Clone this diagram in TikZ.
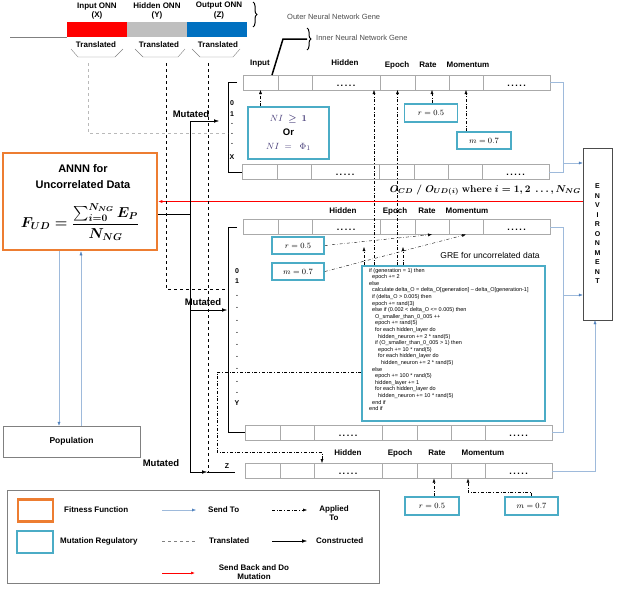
\documentclass[tikz,border=0pt]{standalone}
\usepackage[no-math]{fontspec}
\setmainfont{Liberation Sans}
\usepackage{amsmath,amssymb}
\usetikzlibrary{arrows.meta,decorations.pathreplacing}

\definecolor{fitorange}{RGB}{237,125,49}
\definecolor{mutcyan}{RGB}{75,172,198}
\definecolor{sendblue}{RGB}{79,129,189}
\definecolor{cellgray}{RGB}{170,170,170}
\definecolor{onnblue}{RGB}{0,112,192}
\definecolor{mathnavy}{RGB}{70,60,120}

\tikzset{
  lbl/.style={font=\bfseries\fontsize{8}{9.5}\selectfont, inner sep=0pt},
  genetxt/.style={font=\fontsize{7.5}{8}\selectfont, text=black!70, inner sep=0pt, anchor=west},
  cell/.style={draw=cellgray, fill=white, minimum height=15pt, inner sep=0pt, outer sep=0pt},
  regbox/.style={draw=mutcyan, line width=1.6pt, inner sep=0pt, font=\fontsize{8.5}{9}\selectfont},
  fitbox/.style={draw=fitorange, line width=2.5pt, inner sep=0pt},
  sendto/.style={draw=sendblue!55, -{Latex[length=4pt,width=3pt,color=sendblue]}},
  sendback/.style={draw=red, line width=0.6pt, -{Latex[length=4pt,width=3pt]}},
  applied/.style={dash dot, -{Latex[length=4pt,width=3pt]}},
  build/.style={-{Latex[length=5pt,width=3.5pt]}},
  mutlbl/.style={font=\bfseries\fontsize{9.5}{10}\selectfont, inner sep=0pt},
  idx/.style={font=\bfseries\fontsize{7}{7}\selectfont, inner sep=0pt},
}

% one gene row: name, left x, centre y
\newcommand{\generow}[3]{%
  \foreach \s/\w [count=\i] in {0/35,35/34,69/68,137/35,172/34,206/34,240/67}
    \node [cell, minimum width=\w pt, anchor=west] (#1-\i) at (#2+\s, #3) {};
  \foreach \i in {3,7}
    \node [font=\bfseries\fontsize{9}{9}\selectfont, inner sep=0pt, yshift=-3pt] (#1-d\i) at (#1-\i) {.\,.\,.\,.\,.};
}
\newcommand{\ocdtext}{{\boldmath$O_{CD}\;/\;O_{UD(i)}\ \mathbf{where}\ i = 1,2\ \ldots, N_{NG}$}}
\newcommand{\fudtext}{{\boldmath$\displaystyle F_{UD} = \frac{\sum_{i=0}^{N_{NG}} E_P}{N_{NG}}$}}

\begin{document}
\begin{tikzpicture}[x=1pt, y=-1pt]
\useasboundingbox (0,0) rectangle (618,592);

% outer chromosome
\coordinate (baseL) at (10,37);
\node [fill=red, minimum width=60pt, minimum height=15pt, inner sep=0pt, anchor=south west] (onnX) at (67,37) {};
\node [fill=gray!50, minimum width=60pt, minimum height=15pt, inner sep=0pt, anchor=south west] (onnY) at (127,37) {};
\node [fill=onnblue, minimum width=60pt, minimum height=15pt, inner sep=0pt, anchor=south west] (onnZ) at (187,37) {};
\draw [gray] (baseL) -- (onnX.south west);
\node [lbl, align=center] (lblX) at (97,11) {Input ONN\\(X)};
\node [lbl, align=center] (lblY) at (157,11) {Hidden ONN\\(Y)};
\node [lbl, align=center] (lblZ) at (219,10.5) {Output ONN\\(Z)};
\draw [decorate, decoration={brace, amplitude=4pt}, line width=1pt] (253,2) -- (253,27);
\node [genetxt] (outerG) at (287,17) {Outer Neural Network Gene};

% translated
\node [lbl] (trX) at (96,45) {Translated};
\node [lbl] (trY) at (159,45) {Translated};
\node [lbl] (trZ) at (218,45) {Translated};
\draw [gray] (71,49) -- (78,57) -- (115,57) -- (123,49);
\draw [gray] (135,49) -- (143,57) -- (178,57) -- (185,49);
\draw [gray] (192,49) -- (200,57) -- (233,57) -- (240,49);
\coordinate (tX) at (88,63);
\coordinate (tY) at (166,63);
\coordinate (tZ) at (208,63);

% X block
\generow{xa}{243}{82.5}
\generow{xb}{242}{172}
\draw (237,82.5) -- (228,82.5) -- (228,172) -- (xb-1.west);
\node [lbl] (inL) at (260,64) {Input};
\node [lbl] (hidL) at (345,63) {Hidden};
\node [lbl] (epL) at (397,65) {Epoch};
\node [lbl] (raL) at (428,65) {Rate};
\node [lbl] (moL) at (468,65) {Momentum};
\draw [line width=1.5pt] ([xshift=11.5pt]xa-1.north) -- (283,39) -- (307,39);
\draw [decorate, decoration={brace, amplitude=4pt}, line width=1pt] (307,28) -- (307,50);
\node [genetxt] (innerG) at (316,38) {Inner Neural Network Gene};
\foreach \lab/\yy [count=\i] in {0/103,1/114,./124,./134,./144,X/157}
  \node [idx] (xlab\i) at (232,\yy) {\lab};
\node [regbox, minimum width=81pt, minimum height=52pt, align=center, font=\fontsize{9.5}{14}\selectfont] (niBox) at (288.5,133) {\color{mathnavy}$NI\ \boldsymbol{\geq}\ \mathbf{1}$\\\textbf{Or}\\\color{mathnavy}$NI\ =\ \ \Phi_1$};
\node [regbox, minimum width=53pt, minimum height=18pt] (rX) at (431,113) {$r = 0.5$};
\node [regbox, minimum width=54pt, minimum height=17pt] (mX) at (484,140.5) {$m = 0.7$};
\draw [applied] (niBox.north -| xa-1.south) -- (xa-1.south);
\draw [applied] (rX.north -| xa-5.south) -- (xa-5.south);
\draw [applied] (mX.north -| xa-6.south) -- (xa-6.south);

% environment
\node [draw=black!70, minimum width=29pt, minimum height=172pt, inner sep=0pt, align=center, font=\bfseries\fontsize{7}{9.5}\selectfont] (env) at (597.5,234) {E\\N\\V\\I\\R\\O\\N\\M\\E\\N\\T};
\coordinate (xbr) at (563,163);
\draw [draw=sendblue!55] (xa-7.east) -- ++(13,0) |- (xb-7.east);
\draw [sendto] (xbr) -- (xbr -| env.west);
\node [anchor=east, font=\fontsize{10}{10}\selectfont, inner sep=0pt] (ocd) at (581,190) {\ocdtext};

% fitness function
\node [fitbox, minimum width=154pt, minimum height=97pt] (fud) at (80,201.5) {};
\node [align=center, font=\bfseries\fontsize{11}{16}\selectfont, inner sep=0pt] (fudT) at (83,177) {ANNN for\\Uncorrelated Data};
\node [font=\fontsize{14.5}{16}\selectfont, inner sep=0pt] (fudF) at (80,222) {\fudtext};
\draw [sendback] (env.west |- fud.east) -- (fud.east);

% population
\node [draw=gray, minimum width=137pt, minimum height=31pt, font=\bfseries\fontsize{8.5}{9}\selectfont] (pop) at (71.5,441.5) {Population};
\coordinate (downX) at (59,0);
\coordinate (upX) at (81,0);
\draw [sendto] (fud.south -| downX) -- (pop.north -| downX);
\draw [sendto] (pop.north -| upX) -- (fud.south -| upX);

% Y block
\generow{ya}{243}{227}
\generow{yb}{245}{432.5}
\draw (237,227) -- (228,227) -- (228,432.5) -- (yb-1.west);
\node [lbl] (hidL2) at (343,211) {Hidden};
\node [lbl] (epL2) at (395,211) {Epoch};
\node [lbl] (raL2) at (427,211) {Rate};
\node [lbl] (moL2) at (467,211) {Momentum};
\node [idx] (ylab0) at (237,271) {0};
\node [idx] (ylab1) at (237,281) {1};
\foreach \yy [count=\i] in {296,308,321,333,345,357,369,382,393}
  \node [idx] (ydot\i) at (237,\yy) {.};
\node [idx] (ylabY) at (237,403) {Y};
\node [regbox, minimum width=52pt, minimum height=17pt] (rY) at (298,245.5) {$r = 0.5$};
\node [regbox, minimum width=52pt, minimum height=17pt] (mY) at (298,271.5) {$m = 0.7$};
\draw [applied] (rY.east) -- (ya-5.south);
\draw [applied] (mY.east) -- (ya-6.south);
\coordinate (ybr) at (563,295);
\draw [draw=sendblue!55] (ya-7.east) -- ++(13,0) |- (yb-7.east);
\draw [sendto] (ybr) -- (ybr -| env.west);

% GRE
\node [font=\fontsize{8.5}{9}\selectfont, inner sep=0pt] (greT) at (490,255) {GRE for uncorrelated data};
\node [regbox, minimum width=183pt, minimum height=155pt, anchor=north west] (gre) at (361,265) {};
\node [anchor=north west, align=left, inner sep=0pt, font=\fontsize{5.5}{6.6}\selectfont] (grecode) at (369,268) {%
if (generation = 1) then\\
\hspace*{3pt}epoch += 2\\
else\\
\hspace*{3pt}calculate delta\_O = delta\_O[generation] -- delta\_O[generation-1]\\
\hspace*{3pt}if (delta\_O > 0.005) then\\
\hspace*{3pt}epoch += rand(3)\\
\hspace*{3pt}else if (0.002 < delta\_O <= 0.005) then\\
\hspace*{6pt}O\_smaller\_than\_0\_005 ++\\
\hspace*{6pt}epoch += rand(5)\\
\hspace*{6pt}for each hidden\_layer do\\
\hspace*{9pt}hidden\_neuron += 2 * rand(5)\\
\hspace*{6pt}if (O\_smaller\_than\_0\_005 > 1) then\\
\hspace*{9pt}epoch += 10 * rand(5)\\
\hspace*{9pt}for each hidden\_layer do\\
\hspace*{12pt}hidden\_neuron += 2 * rand(5)\\
\hspace*{3pt}else\\
\hspace*{6pt}epoch += 100 * rand(5)\\
\hspace*{6pt}hidden\_layer += 1\\
\hspace*{6pt}for each hidden\_layer do\\
\hspace*{9pt}hidden\_neuron += 10 * rand(5)\\
\hspace*{3pt}end if\\
end if};
\coordinate (hidEnd) at (374,0);
\coordinate (hidY) at (364,0);
\coordinate (epY) at (403,0);
\draw [applied] (gre.north -| hidEnd) -- (xa-3.south -| hidEnd);
\draw [applied] (gre.north -| xa-4.south) -- (xa-4.south);
\draw [applied] (gre.north -| hidY) -- ++(0,-18);
\draw [applied] (gre.north -| epY) -- ++(0,-18);

% Z block
\generow{z}{245}{471}
\node [lbl] (hidL3) at (348,453) {Hidden};
\node [lbl] (epL3) at (400,453) {Epoch};
\node [lbl] (raL3) at (437,453) {Rate};
\node [lbl] (moL3) at (483,453) {Momentum};
\node [idx] (zlab) at (227,466) {Z};
\node [regbox, minimum width=54pt, minimum height=18pt] (rZ) at (432,506) {$r = 0.5$};
\node [regbox, minimum width=53pt, minimum height=18pt] (mZ) at (531.5,506) {$m = 0.7$};
\draw [applied] (rZ.north -| z-5.south) -- (z-5.south);
\draw [applied] (mZ.north) -- ++(0,-4) -| (z-6.south);
\coordinate (zup) at (595,0);
\draw [sendto] (z-7.east) -| (env.south -| zup);
\coordinate (aplL) at (217,372);
\coordinate (aplB) at (217,452);
\coordinate (zHid) at (322,463);
\draw [applied] (gre.west |- aplL) -- (aplL) -- (aplB) -| (zHid);

% translated and mutated links
\coordinate (xIn) at (219,121);
\coordinate (yIn) at (227,310);
\coordinate (zIn) at (207,472);
\draw [gray!55, dashed] (tX) |- (228,133);
\draw [dashed] (tY) |- (228,289);
\draw [dashed] (tZ) -- (tZ |- zIn);
\coordinate (jct) at (190,214);
\draw ([yshift=-12.5pt]fud.east) -- (jct);
\draw [build] (jct) |- (xIn);
\draw [build] (jct) |- (yIn);
\draw [build] (jct) |- (zIn);
\draw (zIn) -- ++(28,0);
\node [mutlbl] (mut1) at (191,114) {Mutated};
\node [mutlbl] (mut2) at (203,302) {Mutated};
\node [mutlbl] (mut3) at (161,463) {Mutated};

% legend
\node [draw=gray, line width=0.8pt, minimum width=372pt, minimum height=93pt, anchor=north west] (legend) at (7,490) {};
\node [fitbox, minimum width=35pt, minimum height=22pt] (lgFit) at (35.5,510.5) {};
\node [lbl, anchor=west] (lgFitT) at (64,510) {Fitness Function};
\node [regbox, minimum width=36pt, minimum height=22pt] (lgMut) at (35,542) {};
\node [lbl, anchor=west] (lgMutT) at (60,541) {Mutation Regulatory};
\node [lbl, anchor=west] (lgSendT) at (208,510) {Send To};
\draw [sendto] ([xshift=-46pt]lgSendT.west) -- ([xshift=-12pt]lgSendT.west);
\node [lbl, align=center] (lgAppT) at (334,513) {Applied\\To};
\draw [applied] (272,510) -- (307,510);
\node [lbl, anchor=west] (lgTrT) at (209,541) {Translated};
\draw [dashed, gray] ([xshift=-47pt]lgTrT.west) -- ([xshift=-13pt]lgTrT.west);
\node [lbl, anchor=west] (lgConT) at (316,541) {Constructed};
\draw [build] ([xshift=-44pt]lgConT.west) -- ([xshift=-9pt]lgConT.west);
\node [lbl, align=center] (lgBackT) at (254,572) {Send Back and Do\\Mutation};
\draw [sendback] (162,573) -- (195,573);
\end{tikzpicture}
\end{document}
